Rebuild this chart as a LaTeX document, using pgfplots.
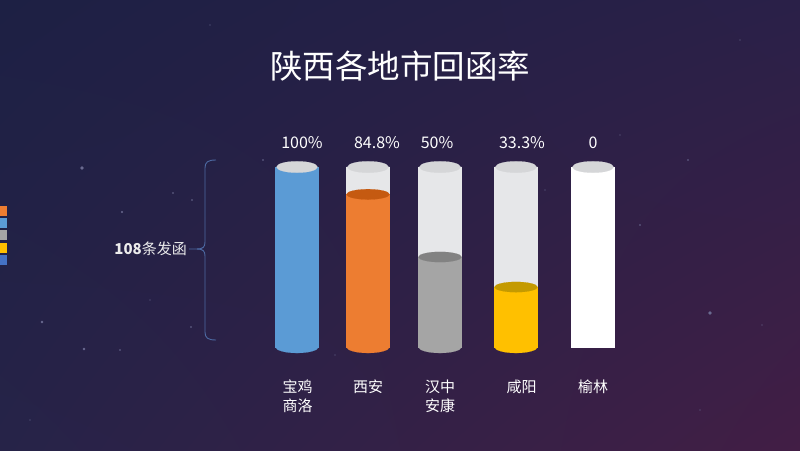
\documentclass[border=0pt]{standalone}
\usepackage{pgfplots}
\pgfplotsset{compat=1.18}
\usetikzlibrary{shadings}
\usepackage{fontspec}
\setmainfont{Noto Sans CJK SC}

\definecolor{bgUL}{HTML}{1D2044}
\definecolor{bgUR}{HTML}{2A2048}
\definecolor{bgLL}{HTML}{262348}
\definecolor{bgLR}{HTML}{421E45}
\definecolor{star}{HTML}{6A6A90}
\definecolor{tube}{HTML}{E6E7E9}
\definecolor{tubetop}{HTML}{D5D6D8}
\definecolor{cblue}{HTML}{5B9BD5}
\definecolor{corange}{HTML}{ED7D31}
\definecolor{corangetop}{HTML}{C55A11}
\definecolor{cgray}{HTML}{A5A5A5}
\definecolor{cgraytop}{HTML}{828282}
\definecolor{cyellow}{HTML}{FFC000}
\definecolor{cyellowtop}{HTML}{C49A00}
\definecolor{cdblue}{HTML}{4472C4}
\definecolor{brace}{HTML}{4D6AA3}

\pgfplotsset{
  tubebar/.style={ybar, bar width=43, bar shift=0pt, color=#1, fill=#1, line width=0.1pt},
  lid/.style 2 args={only marks, mark=*, mark size=21.5pt, color=#1, line width=0.1pt,
    mark options={yscale=#2, draw=#1, fill=#1}},
  lbl/.style={only marks, mark=none, nodes near coords, point meta=explicit symbolic,
    nodes near coords style={anchor=center, text=white, font=\fontsize{#1}{#1}\selectfont}},
}

\begin{document}
\begin{tikzpicture}
% background
\shade[upper left=bgUL, upper right=bgUR, lower left=bgLL, lower right=bgLR]
  (0,0) rectangle (800pt,450pt);

\begin{scope}[shift={(0pt,450pt)}, x=1pt, y=-1pt]
  % stars
  \foreach \sx/\sy/\sr in {82/168/1.8, 42/322/1.3, 710/313/1.8, 173/193/0.9, 192/200/0.9,
      120/350/0.8, 191/327/0.9, 84/349/1.4, 122/212/1.2, 263/160/0.8, 335/355/0.7,
      688/160/0.8, 740/40/0.7, 620/135/0.7, 210/25/0.6, 640/225/0.8, 762/325/0.7, 30/420/0.6,
      545/190/0.7, 455/55/0.6, 150/300/0.6, 700/410/0.6}
    \fill[star] (\sx,\sy) circle (\sr);
  % left colour strips
  \fill[corange] (0,206) rectangle (6.7,216);
  \fill[cblue] (0,218.5) rectangle (6.7,228);
  \fill[cgray] (0,230.5) rectangle (6.7,240.5);
  \fill[cyellow] (0,243) rectangle (6.7,253);
  \fill[cdblue] (0,255) rectangle (6.7,265);
  % brace
  \draw[brace, line width=0.9pt]
    (216,160) .. controls (208,160) and (205,162) .. (205,168) -- (205,242)
    .. controls (205,247) and (203,249) .. (197,249) -- (189,249);
  \draw[brace, line width=0.9pt]
    (216,340) .. controls (208,340) and (205,338) .. (205,332) -- (205,256)
    .. controls (205,251) and (203,249) .. (197,249);
  \node[anchor=east, text=white!85!gray, font=\fontsize{15}{17}\selectfont, inner sep=0pt]
    at (187,249) {\textbf{108}条发函};
  % title
  \node[text=white, font=\fontsize{32.5}{38}\selectfont, inner sep=0pt] at (400,66) {陕西各地市回函率};
\end{scope}

\begin{axis}[
  at={(0,0)}, anchor=south west,
  width=800pt, height=450pt, scale only axis,
  xmin=0, xmax=800,
  ymin=-57.222, ymax=192.778,
  hide axis, clip=false,
]
% empty tubes
\addplot[tubebar=tube] coordinates {(368,100) (440,100) (516,100)};
\addplot[tubebar=white] coordinates {(593,100)};
% liquid
\addplot[tubebar=cblue] coordinates {(297,100)};
\addplot[tubebar=corange] coordinates {(368,84.8)};
\addplot[tubebar=cgray] coordinates {(440,50)};
\addplot[tubebar=cyellow] coordinates {(516,33.3)};
% rounded bottoms
\addplot[lid={cblue}{0.28}] coordinates {(297,0)};
\addplot[lid={corange}{0.28}] coordinates {(368,0)};
\addplot[lid={cgray}{0.28}] coordinates {(440,0)};
\addplot[lid={cyellow}{0.28}] coordinates {(516,0)};
% liquid surfaces
\addplot[lid={corangetop}{0.24}] coordinates {(368,84.8)};
\addplot[lid={cgraytop}{0.24}] coordinates {(440,50)};
\addplot[lid={cyellowtop}{0.24}] coordinates {(516,33.3)};
% tube tops
\addplot[lid={tubetop}{0.28}, mark size=20.5pt]
  coordinates {(297,100) (368,100) (440,100) (516,100) (593,100)};
% value labels
\addplot[lbl=16] coordinates {(302,113.3) [100\%] (377,113.3) [84.8\%] (437,113.3) [50\%]
               (522,113.3) [33.3\%] (593,113.3) [0]};
% city labels, first and second line
\addplot[lbl=15] coordinates {(297.5,-22.2) [宝鸡] (368,-22.2) [西安] (440,-22.2) [汉中]
               (521.5,-22.2) [咸阳] (593,-22.2) [榆林]};
\addplot[lbl=15] coordinates {(297.5,-32.8) [商洛] (440,-32.8) [安康]};
\end{axis}
\end{tikzpicture}
\end{document}
